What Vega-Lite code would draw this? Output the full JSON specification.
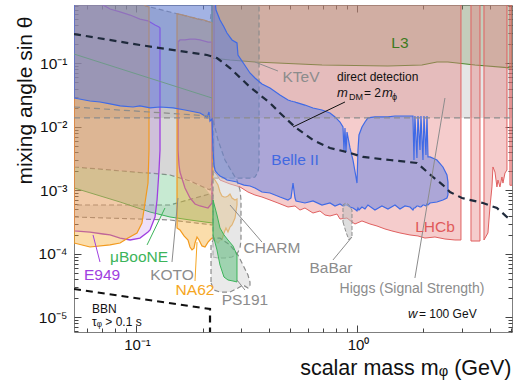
{
"$schema":"https://vega.github.io/schema/vega-lite/v6.json",
"width":438,"height":327,
"autosize":{"type":"none"},
"padding":{"left":74,"top":5,"right":3,"bottom":49},
"background":"white",
"config":{"view":{"stroke":"#7f7f7f","strokeWidth":1},"font":"Liberation Sans","axis":{"grid":false,"domain":false}},
"resolve":{"axis":{"x":"independent","y":"independent"}},
"datasets":{
"higgs":[{"x":0.0524,"lo":0.0138,"hi":1},{"x":5.03,"lo":0.0138,"hi":1}],
"l3":[{"x":0.2208,"lo":0.121,"hi":1},{"x":0.2662,"lo":0.1127,"hi":1},{"x":0.3454,"lo":0.1048,"hi":1},{"x":0.6944,"lo":0.094,"hi":1},{"x":1.381,"lo":0.0907,"hi":1},{"x":1.968,"lo":0.094,"hi":1},{"x":2.301,"lo":0.1048,"hi":1},{"x":2.581,"lo":0.1048,"hi":1},{"x":3.42,"lo":0.094,"hi":1},{"x":5.03,"lo":0.0843,"hi":1}],
"lhcb":[
{"s":"a","x":0.2254,"lo":0.00194,"hi":1},{"s":"a","x":0.2325,"lo":0.00174,"hi":1},{"s":"a","x":0.2399,"lo":0.00145,"hi":1},{"s":"a","x":0.2662,"lo":0.00126,"hi":1},{"s":"a","x":0.2955,"lo":0.00113,"hi":1},{"s":"a","x":0.3211,"lo":0.00094,"hi":1},{"s":"a","x":0.3454,"lo":0.000843,"hi":1},{"s":"a","x":0.3716,"lo":0.000784,"hi":1},{"s":"a","x":0.404,"lo":0.000704,"hi":1},{"s":"a","x":0.439,"lo":0.000631,"hi":1},{"s":"a","x":0.4874,"lo":0.000546,"hi":1},{"s":"a","x":0.5242,"lo":0.000566,"hi":1},{"s":"a","x":0.5521,"lo":0.000489,"hi":1},{"s":"a","x":0.5815,"lo":0.000526,"hi":1},{"s":"a","x":0.6323,"lo":0.000439,"hi":1},{"s":"a","x":0.6802,"lo":0.000472,"hi":1},{"s":"a","x":0.7166,"lo":0.000408,"hi":1},{"s":"a","x":0.7548,"lo":0.000394,"hi":1},{"s":"a","x":0.812,"lo":0.000423,"hi":1},{"s":"a","x":0.8379,"lo":0.000353,"hi":1},{"s":"a","x":0.9012,"lo":0.000366,"hi":1},{"s":"a","x":0.9493,"lo":0.000317,"hi":1},{"s":"a","x":0.9795,"lo":0.000295,"hi":1},{"s":"a","x":1.0535,"lo":0.000329,"hi":1},{"s":"a","x":1.145,"lo":0.000295,"hi":1},{"s":"a","x":1.232,"lo":0.000274,"hi":1},{"s":"a","x":1.339,"lo":0.000246,"hi":1},{"s":"a","x":1.44,"lo":0.000229,"hi":1},{"s":"a","x":1.565,"lo":0.000213,"hi":1},{"s":"a","x":1.737,"lo":0.000198,"hi":1},{"s":"a","x":1.888,"lo":0.000191,"hi":1},{"s":"a","x":2.031,"lo":0.000177,"hi":1},{"s":"a","x":2.254,"lo":0.000184,"hi":1},{"s":"a","x":2.501,"lo":0.000171,"hi":1},{"s":"a","x":2.776,"lo":0.000165,"hi":1},{"s":"a","x":2.955,"lo":0.000165,"hi":1},
{"s":"b","x":3.28,"lo":0.000159,"hi":1},{"s":"b","x":3.603,"lo":0.000159,"hi":1},
{"s":"c","x":3.756,"lo":0.000165,"hi":1},{"s":"c","x":3.915,"lo":0.000213,"hi":1},{"s":"c","x":3.998,"lo":0.000546,"hi":1},{"s":"c","x":4.082,"lo":0.00113,"hi":1},{"s":"c","x":4.125,"lo":0.00233,"hi":1},{"s":"c","x":4.212,"lo":0.00194,"hi":1},{"s":"c","x":4.3,"lo":0.00113,"hi":1},{"s":"c","x":4.345,"lo":0.00145,"hi":1},{"s":"c","x":4.437,"lo":0.00113,"hi":1},{"s":"c","x":4.53,"lo":0.00162,"hi":1},{"s":"c","x":4.578,"lo":0.0013,"hi":1},{"s":"c","x":4.675,"lo":0.00187,"hi":1},{"s":"c","x":4.773,"lo":0.00209,"hi":1},
{"s":"d","x":4.923,"lo":0.0012,"hi":1},{"s":"d","x":5.03,"lo":0.0012,"hi":1}],
"ktev":[{"x":0.0524,"lo":0.00233,"hi":1},{"x":0.0763,"lo":0.00209,"hi":1},{"x":0.1064,"lo":0.00189,"hi":0.83},{"x":0.1157,"lo":0.00187,"hi":0.77},{"x":0.1425,"lo":0.00174,"hi":0.643},{"x":0.1755,"lo":0.0014,"hi":0.536},{"x":0.2162,"lo":0.00101,"hi":0.447},{"x":0.2231,"lo":0.00156,"hi":1},{"x":0.3279,"lo":0.00156,"hi":1},{"x":0.3454,"lo":0.00162,"hi":1},{"x":0.3565,"lo":0.00194,"hi":1},{"x":0.3603,"lo":0.0025,"hi":1}],
"koto":[{"x":0.0524,"lo":0.00038,"hi":0.000587},{"x":0.1425,"lo":0.000341,"hi":0.000587},{"x":0.2231,"lo":0.000284,"hi":0.000907}],
"mub":[{"x":0.0524,"lo":0.00109,"hi":0.00233},{"x":0.0847,"lo":0.000654,"hi":0.00201},{"x":0.1157,"lo":0.000455,"hi":0.00187},{"x":0.1425,"lo":0.00038,"hi":0.00174},{"x":0.1755,"lo":0.000341,"hi":0.00135},{"x":0.2052,"lo":0.000317,"hi":0.00109},{"x":0.2231,"lo":0.000305,"hi":0.000756}],
"e949":[
{"s":"a","x":0.0524,"lo":0.000229,"hi":1},{"s":"a","x":0.0619,"lo":0.00022,"hi":1},{"s":"a","x":0.0709,"lo":0.000205,"hi":0.828},{"s":"a","x":0.0763,"lo":0.000198,"hi":0.716},{"s":"a","x":0.0847,"lo":0.000177,"hi":0.643},{"s":"a","x":0.094,"lo":0.000165,"hi":0.576},{"s":"a","x":0.1042,"lo":0.000177,"hi":0.498},{"s":"a","x":0.1133,"lo":0.00022,"hi":0.464},{"s":"a","x":0.1157,"lo":0.000237,"hi":0.447},{"s":"a","x":0.1219,"lo":0.00038,"hi":0.401},{"s":"a","x":0.1245,"lo":0.000704,"hi":0.387},{"s":"a","x":0.1271,"lo":0.00209,"hi":0.373},{"s":"a","x":0.1284,"lo":0.00431,"hi":0.36},
{"s":"b","x":0.1549,"lo":0.00431,"hi":0.224},{"s":"b","x":0.1565,"lo":0.0025,"hi":0.224},{"s":"b","x":0.1581,"lo":0.00194,"hi":0.233},{"s":"b","x":0.1666,"lo":0.00109,"hi":0.233},{"s":"b","x":0.1755,"lo":0.000756,"hi":0.241},{"s":"b","x":0.1849,"lo":0.000608,"hi":0.241},{"s":"b","x":0.1948,"lo":0.000566,"hi":0.233},{"s":"b","x":0.2118,"lo":0.000526,"hi":0.216},{"s":"b","x":0.2208,"lo":0.000631,"hi":0.216}],
"na62":[
{"s":"a","x":0.0524,"lo":0.000148,"hi":1},{"s":"a","x":0.0619,"lo":0.000128,"hi":1},{"s":"a","x":0.0763,"lo":0.000138,"hi":1},{"s":"a","x":0.0847,"lo":0.000148,"hi":1},{"s":"a","x":0.092,"lo":0.000177,"hi":1},{"s":"a","x":0.101,"lo":0.000213,"hi":1},{"s":"a","x":0.1064,"lo":0.000305,"hi":1},{"s":"a","x":0.1098,"lo":0.000631,"hi":0.81},{"s":"a","x":0.1133,"lo":0.0013,"hi":0.78},{"s":"a","x":0.1145,"lo":0.00431,"hi":0.775},
{"s":"b","x":0.1533,"lo":0.000255,"hi":0.603},{"s":"b","x":0.1581,"lo":0.000237,"hi":0.59},{"s":"b","x":0.1649,"lo":0.000191,"hi":0.57},{"s":"b","x":0.1719,"lo":0.000165,"hi":0.55},{"s":"b","x":0.1755,"lo":0.000128,"hi":0.536},{"s":"b","x":0.1792,"lo":0.000115,"hi":0.53},{"s":"b","x":0.183,"lo":0.000123,"hi":0.52},{"s":"b","x":0.1849,"lo":0.000148,"hi":0.515},{"s":"b","x":0.1888,"lo":0.000184,"hi":0.5},{"s":"b","x":0.1928,"lo":0.000165,"hi":0.495},{"s":"b","x":0.1989,"lo":0.000133,"hi":0.49},{"s":"b","x":0.2052,"lo":0.000128,"hi":0.475},{"s":"b","x":0.2118,"lo":0.000153,"hi":0.455},{"s":"b","x":0.2162,"lo":0.000165,"hi":0.447},{"s":"b","x":0.2208,"lo":0.000177,"hi":0.434},{"s":"b","x":0.2231,"lo":0.000177,"hi":0.00156},{"s":"b","x":0.2278,"lo":0.000165,"hi":0.00145},{"s":"b","x":0.235,"lo":0.000148,"hi":0.00121},{"s":"b","x":0.2399,"lo":0.000165,"hi":0.00094},{"s":"b","x":0.2449,"lo":0.000165,"hi":0.000813},{"s":"b","x":0.2501,"lo":0.000213,"hi":0.000784},{"s":"b","x":0.2553,"lo":0.000255,"hi":0.000784},{"s":"b","x":0.2607,"lo":0.00022,"hi":0.000813},{"s":"b","x":0.2662,"lo":0.000264,"hi":0.000874},{"s":"b","x":0.2719,"lo":0.000284,"hi":0.000756},{"s":"b","x":0.2805,"lo":0.000366,"hi":0.000704},{"s":"b","x":0.2864,"lo":0.000587,"hi":0.000729}],
"charm":[{"x":0.2231,"lo":0.000089,"hi":0.0128},{"x":0.235,"lo":0.0000859,"hi":0.00619},{"x":0.2527,"lo":0.0000859,"hi":0.003},{"x":0.2719,"lo":0.000089,"hi":0.00194},{"x":0.2864,"lo":0.0000993,"hi":0.00145},{"x":0.2955,"lo":0.000123,"hi":0.00101},{"x":0.2986,"lo":0.000165,"hi":0.000704}],
"ps191g":[{"x":0.2185,"lo":0.0000347,"hi":0.000138},{"x":0.2254,"lo":0.0000269,"hi":0.000177},{"x":0.2399,"lo":0.000025,"hi":0.000177},{"x":0.2662,"lo":0.000025,"hi":0.000138},{"x":0.2894,"lo":0.0000289,"hi":0.0000957},{"x":0.3049,"lo":0.0000323,"hi":0.0000666},{"x":0.3211,"lo":0.0000289,"hi":0.0000464},{"x":0.3279,"lo":0.00003,"hi":0.000036}],
"ps191":[{"x":0.2231,"lo":0.000198,"hi":0.000704},{"x":0.2325,"lo":0.000115,"hi":0.000408},{"x":0.2399,"lo":0.0000666,"hi":0.000255},{"x":0.2501,"lo":0.0000431,"hi":0.000198},{"x":0.2607,"lo":0.0000387,"hi":0.000165},{"x":0.2747,"lo":0.0000373,"hi":0.000133},{"x":0.2864,"lo":0.000036,"hi":0.0000957}],
"belle":[
{"x":0.0524,"lo":0.0284,"hi":1},{"x":0.0619,"lo":0.0255,"hi":1},{"x":0.0687,"lo":0.0246,"hi":1},{"x":0.0763,"lo":0.0229,"hi":1},{"x":0.0847,"lo":0.0213,"hi":1},{"x":0.0969,"lo":0.0205,"hi":1},{"x":0.1042,"lo":0.0213,"hi":1},{"x":0.1157,"lo":0.0198,"hi":1},{"x":0.1284,"lo":0.0205,"hi":1},{"x":0.1471,"lo":0.0198,"hi":1},{"x":0.1666,"lo":0.0184,"hi":1},{"x":0.1849,"lo":0.0171,"hi":1},{"x":0.1948,"lo":0.0165,"hi":1},{"x":0.2052,"lo":0.0148,"hi":1},{"x":0.2096,"lo":0.0138,"hi":1},{"x":0.2139,"lo":0.0171,"hi":1},{"x":0.2162,"lo":0.0123,"hi":1},{"x":0.2208,"lo":0.0133,"hi":1},{"x":0.2231,"lo":0.00431,"hi":1},{"x":0.2254,"lo":0.0025,"hi":1},{"x":0.2278,"lo":0.00209,"hi":1},{"x":0.2301,"lo":0.00194,"hi":0.691},{"x":0.235,"lo":0.0018,"hi":0.576},{"x":0.2399,"lo":0.00168,"hi":0.481},{"x":0.2501,"lo":0.00156,"hi":0.373},{"x":0.258,"lo":0.00145,"hi":0.3},{"x":0.2719,"lo":0.0014,"hi":0.233},{"x":0.2864,"lo":0.00135,"hi":0.209},{"x":0.2894,"lo":0.0013,"hi":0.135},{"x":0.3081,"lo":0.00121,"hi":0.0975},{"x":0.3279,"lo":0.00117,"hi":0.0704},{"x":0.3454,"lo":0.00109,"hi":0.0587},{"x":0.3716,"lo":0.00094,"hi":0.0472},{"x":0.404,"lo":0.000907,"hi":0.0408},{"x":0.4482,"lo":0.000784,"hi":0.0317},{"x":0.4874,"lo":0.000704,"hi":0.0264},{"x":0.5028,"lo":0.000756,"hi":0.0255},{"x":0.5135,"lo":0.0013,"hi":0.025},{"x":0.5242,"lo":0.000756,"hi":0.0246},{"x":0.5297,"lo":0.000679,"hi":0.0243},{"x":0.5815,"lo":0.000631,"hi":0.022},{"x":0.6323,"lo":0.000679,"hi":0.0198},{"x":0.6944,"lo":0.000587,"hi":0.0184},{"x":0.7548,"lo":0.000631,"hi":0.0165},{"x":0.7955,"lo":0.000566,"hi":0.0143},{"x":0.8379,"lo":0.000608,"hi":0.0119},{"x":0.8643,"lo":0.000566,"hi":0.00993},{"x":0.8733,"lo":0.000566,"hi":0.00431},{"x":0.8825,"lo":0.000587,"hi":0.00957},{"x":0.8917,"lo":0.000587,"hi":0.00401},{"x":0.9012,"lo":0.000587,"hi":0.00828},{"x":0.9297,"lo":0.000546,"hi":0.00464},{"x":0.9592,"lo":0.000526,"hi":0.003},{"x":0.9896,"lo":0.000489,"hi":0.00162},{"x":1.0,"lo":0.000472,"hi":0.0013},{"x":1.0105,"lo":0.000526,"hi":0.00431},{"x":1.021,"lo":0.000489,"hi":0.00743},{"x":1.0535,"lo":0.000546,"hi":0.00993},{"x":1.087,"lo":0.000508,"hi":0.0119},{"x":1.121,"lo":0.000587,"hi":0.0138},{"x":1.206,"lo":0.000489,"hi":0.0143},{"x":1.297,"lo":0.000566,"hi":0.0143},{"x":1.381,"lo":0.000508,"hi":0.0143},{"x":1.486,"lo":0.000587,"hi":0.0148},{"x":1.565,"lo":0.000508,"hi":0.0148},{"x":1.649,"lo":0.000566,"hi":0.0148},{"x":1.737,"lo":0.000546,"hi":0.0148},{"x":1.792,"lo":0.000489,"hi":0.0148},{"x":1.811,"lo":0.000526,"hi":0.003},{"x":1.829,"lo":0.000526,"hi":0.0148},{"x":1.868,"lo":0.000566,"hi":0.00323},{"x":1.888,"lo":0.000566,"hi":0.0148},{"x":1.928,"lo":0.000546,"hi":0.00431},{"x":1.948,"lo":0.000546,"hi":0.0148},{"x":1.989,"lo":0.000587,"hi":0.003},{"x":2.01,"lo":0.000587,"hi":0.0148},{"x":2.052,"lo":0.000566,"hi":0.0036},{"x":2.074,"lo":0.000608,"hi":0.0148},{"x":2.096,"lo":0.000587,"hi":0.00335},{"x":2.14,"lo":0.000631,"hi":0.00335},{"x":2.301,"lo":0.000654,"hi":0.003},{"x":2.449,"lo":0.000704,"hi":0.00233},{"x":2.554,"lo":0.000756,"hi":0.00174},{"x":2.581,"lo":0.000843,"hi":0.00135}],
"babar":[{"x":0.8643,"lo":0.000317,"hi":0.000587},{"x":0.8917,"lo":0.00022,"hi":0.000631},{"x":0.92,"lo":0.000165,"hi":0.000587},{"x":0.9493,"lo":0.000191,"hi":0.000489}],
"dashg":[{"id":"h","x":0.0524,"y":0.0138},{"id":"h","x":5.03,"y":0.0138},{"id":"d5","x":0.0524,"y":0.0205},{"id":"d5","x":0.2162,"y":0.0148}],
"l3left":[{"x":0.0524,"y":0.14},{"x":0.2208,"y":0.0284}],
"dd":[{"x":0.0524,"y":0.289},{"x":0.1042,"y":0.194},{"x":0.2096,"y":0.135},{"x":0.2325,"y":0.121},{"x":0.2662,"y":0.0843},{"x":0.3279,"y":0.0423},{"x":0.404,"y":0.0237},{"x":0.4482,"y":0.0165},{"x":0.5242,"y":0.00993},{"x":0.6323,"y":0.00619},{"x":0.7548,"y":0.00464},{"x":0.9012,"y":0.00401},{"x":1.0644,"y":0.00335},{"x":1.41,"y":0.003},{"x":1.868,"y":0.00269},{"x":2.208,"y":0.00162},{"x":2.449,"y":0.00121},{"x":2.635,"y":0.00094},{"x":2.987,"y":0.000756},{"x":3.717,"y":0.000631},{"x":4.3,"y":0.000526},{"x":4.773,"y":0.00038},{"x":5.027,"y":0.000341}],
"bbn":[{"x":0.0524,"y":0.0000279},{"x":0.2162,"y":0.0000135},{"x":0.21621,"y":0.000005}],
"ptr":[{"exp":"KTeV","x":0.439,"y":0.0756},{"exp":"KTeV","x":0.3454,"y":0.1048},{"exp":"DD","x":0.8825,"y":0.0246},{"exp":"DD","x":0.5135,"y":0.00993},{"exp":"Higgs","x":1.829,"y":0.0000416},{"exp":"Higgs","x":2.501,"y":0.0284},{"exp":"BaBar","x":0.7786,"y":0.0000799},{"exp":"BaBar","x":0.9493,"y":0.000184},{"exp":"CHARM","x":0.3716,"y":0.000153},{"exp":"CHARM","x":0.2662,"y":0.000587},{"exp":"PS191","x":0.3112,"y":0.0000269},{"exp":"PS191","x":0.2864,"y":0.0000387},{"exp":"KOTO","x":0.1455,"y":0.0000743},{"exp":"KOTO","x":0.1549,"y":0.000756},{"exp":"muBooNE","x":0.1122,"y":0.000138},{"exp":"muBooNE","x":0.1352,"y":0.000526},{"exp":"E949","x":0.0687,"y":0.0000743},{"exp":"E949","x":0.0639,"y":0.000198},{"exp":"NA62","x":0.1849,"y":0.0000373},{"exp":"NA62","x":0.1888,"y":0.000153}],
"lab":[
{"k":"c16","t":"L3","exp":"L3","x":1.565,"y":0.174},
{"k":"c16","t":"KTeV","exp":"KTeV","x":0.5578,"y":0.0507},
{"k":"c16","t":"Belle II","exp":"Belle","x":0.5242,"y":0.0025},
{"k":"c16","t":"LHCb","exp":"LHCb","x":2.254,"y":0.00022},
{"k":"c16","t":"CHARM","exp":"CHARM","x":0.4125,"y":0.000103},
{"k":"c16","t":"BaBar","exp":"BaBar","x":0.7627,"y":0.0000498},
{"k":"c16","t":"μBooNE","exp":"muBooNE","x":0.1032,"y":0.0000743},
{"k":"c16","t":"E949","exp":"E949","x":0.0702,"y":0.0000387},
{"k":"c16","t":"KOTO","exp":"KOTO","x":0.1455,"y":0.0000387},
{"k":"c16","t":"NA62","exp":"NA62","x":0.1849,"y":0.0000224},
{"k":"c16","t":"PS191","exp":"PS191","x":0.3112,"y":0.0000156},
{"k":"c14","t":"Higgs (Signal Strength)","exp":"Higgs","x":1.774,"y":0.0000241},
{"k":"l12","t":"direct detection","exp":"DD","x":0.812,"y":0.0526},
{"k":"l12","t":"= 2","exp":"DD","x":1.076,"y":0.0294},
{"k":"l12","t":"= 100 GeV","exp":"DD","x":1.907,"y":0.00000975},
{"k":"l12","t":"BBN","exp":"DD","x":0.0632,"y":0.0000117},
{"k":"l12","t":"τᵩ > 0.1 s","exp":"DD","x":0.0632,"y":0.0000072},
{"k":"it","t":"m","exp":"DD","x":0.812,"y":0.0294},
{"k":"it","t":"m","exp":"DD","x":1.297,"y":0.0294},
{"k":"it","t":"w","exp":"DD","x":1.701,"y":0.00000975},
{"k":"sub","t":"DM","exp":"DD","x":0.92,"y":0.0264},
{"k":"sub","t":"ϕ","exp":"DD","x":1.44,"y":0.0264}]
},
"layer":[
{"data":{"name":"higgs"},"mark":{"type":"area","fill":"#8a8a8a","fillOpacity":0.22,"clip":true},
 "encoding":{
  "x":{"field":"x","type":"quantitative","scale":{"type":"log","domain":[0.0524,5.03],"nice":false},
   "axis":{"orient":"bottom","values":[0.06,0.07,0.08,0.09,0.1,0.2,0.3,0.4,0.5,0.6,0.7,0.8,0.9,1,2,3,4,5],
    "labelExpr":"abs(log(datum.value)/LN10-round(log(datum.value)/LN10))>0.01 ? '' : round(log(datum.value)/LN10)==-1 ? '10⁻¹' : '10⁰'",
    "tickSize":{"condition":{"test":"abs(log(datum.value)/LN10-round(log(datum.value)/LN10))<0.01","value":-7},"value":-4},
    "tickColor":"#444","labelPadding":12,"labelFontSize":15,"labelFont":"Liberation Sans","labelColor":"#111","labelFlush":false,"labelOverlap":false,"labelOffset":1,
    "title":"scalar mass mᵩ (GeV)","titleFont":"Liberation Sans","titleFontSize":21.5,"titleFontWeight":"normal","titleColor":"#111","titleAlign":"right","titleBaseline":"alphabetic","titleX":437,"titleY":42}},
  "y":{"field":"lo","type":"quantitative","stack":null,"scale":{"type":"log","domain":[0.00000587,0.828],"nice":false},
   "axis":{"orient":"left","values":[0.000006,0.000007,0.000008,0.000009,0.00001,0.00002,0.00003,0.00004,0.00005,0.00006,0.00007,0.00008,0.00009,0.0001,0.0002,0.0003,0.0004,0.0005,0.0006,0.0007,0.0008,0.0009,0.001,0.002,0.003,0.004,0.005,0.006,0.007,0.008,0.009,0.01,0.02,0.03,0.04,0.05,0.06,0.07,0.08,0.09,0.1,0.2,0.3,0.4,0.5,0.6,0.7,0.8],
    "labelExpr":"abs(log(datum.value)/LN10-round(log(datum.value)/LN10))>0.01 ? '' : round(log(datum.value)/LN10)==-5 ? '10⁻⁵' : round(log(datum.value)/LN10)==-4 ? '10⁻⁴' : round(log(datum.value)/LN10)==-3 ? '10⁻³' : round(log(datum.value)/LN10)==-2 ? '10⁻²' : '10⁻¹'",
    "tickSize":{"condition":{"test":"abs(log(datum.value)/LN10-round(log(datum.value)/LN10))<0.01","value":-7},"value":-4},
    "tickColor":"#444","labelPadding":14,"labelFontSize":15.5,"labelFont":"Liberation Sans","labelColor":"#111","labelFlush":false,"labelOverlap":false,
    "title":"mixing angle sin θ","titleFont":"Liberation Sans","titleFontSize":21,"titleFontWeight":"normal","titleColor":"#111","titleAngle":270,"titleAlign":"center","titleBaseline":"alphabetic","titleX":-43,"titleY":95}},
  "y2":{"field":"hi"}}},
{"data":{"name":"l3"},"mark":{"type":"area","fill":"#6e8f4f","fillOpacity":0.28,"stroke":"#4e8a2e","strokeWidth":1.2,"clip":true},
 "encoding":{
  "x":{"field":"x","type":"quantitative","scale":{"type":"log","domain":[0.0524,5.03],"nice":false},
   "axis":{"orient":"top","values":[0.06,0.07,0.08,0.09,0.1,0.2,0.3,0.4,0.5,0.6,0.7,0.8,0.9,1,2,3,4,5],"labels":false,"title":null,
    "tickSize":{"condition":{"test":"abs(log(datum.value)/LN10-round(log(datum.value)/LN10))<0.01","value":-7},"value":-4},"tickColor":"#444"}},
  "y":{"field":"lo","type":"quantitative","stack":null,"scale":{"type":"log","domain":[0.00000587,0.828],"nice":false},
   "axis":{"orient":"right","values":[0.000006,0.000007,0.000008,0.000009,0.00001,0.00002,0.00003,0.00004,0.00005,0.00006,0.00007,0.00008,0.00009,0.0001,0.0002,0.0003,0.0004,0.0005,0.0006,0.0007,0.0008,0.0009,0.001,0.002,0.003,0.004,0.005,0.006,0.007,0.008,0.009,0.01,0.02,0.03,0.04,0.05,0.06,0.07,0.08,0.09,0.1,0.2,0.3,0.4,0.5,0.6,0.7,0.8],"labels":false,"title":null,
    "tickSize":{"condition":{"test":"abs(log(datum.value)/LN10-round(log(datum.value)/LN10))<0.01","value":-7},"value":-4},"tickColor":"#444"}},
  "y2":{"field":"hi"}}},
{"data":{"name":"lhcb"},"mark":{"type":"area","fill":"#e57f7f","fillOpacity":0.4,"stroke":"#e06060","strokeWidth":1,"clip":true},
 "encoding":{"x":{"field":"x","type":"quantitative","axis":null},"y":{"field":"lo","type":"quantitative","stack":null,"axis":null},"y2":{"field":"hi"},"detail":{"field":"s"}}},
{"data":{"name":"ktev"},"mark":{"type":"area","fill":"#8c8c8c","fillOpacity":0.35,"stroke":"#8c8c8c","strokeWidth":1.2,"strokeDash":[5,3],"clip":true},
 "encoding":{"x":{"field":"x","type":"quantitative","axis":null},"y":{"field":"lo","type":"quantitative","stack":null,"axis":null},"y2":{"field":"hi"}}},
{"data":{"name":"koto"},"mark":{"type":"area","fill":"#a0a0a0","fillOpacity":0.18,"stroke":"#8c8c8c","strokeWidth":1.2,"strokeDash":[5,3],"clip":true},
 "encoding":{"x":{"field":"x","type":"quantitative","axis":null},"y":{"field":"lo","type":"quantitative","stack":null,"axis":null},"y2":{"field":"hi"}}},
{"data":{"name":"mub"},"mark":{"type":"area","fill":"#45b86a","fillOpacity":0.3,"clip":true},
 "encoding":{"x":{"field":"x","type":"quantitative","axis":null},"y":{"field":"lo","type":"quantitative","stack":null,"axis":null},"y2":{"field":"hi"}}},
{"data":{"name":"mub"},"mark":{"type":"line","stroke":"#3cb45a","strokeWidth":1,"clip":true},
 "encoding":{"x":{"field":"x","type":"quantitative","axis":null},"y":{"field":"lo","type":"quantitative","axis":null}}},
{"data":{"name":"e949"},"mark":{"type":"area","fill":"#b066e8","fillOpacity":0.2,"stroke":"#a040e0","strokeWidth":1.3,"clip":true},
 "encoding":{"x":{"field":"x","type":"quantitative","axis":null},"y":{"field":"lo","type":"quantitative","stack":null,"axis":null},"y2":{"field":"hi"},"detail":{"field":"s"}}},
{"data":{"name":"na62"},"mark":{"type":"area","fill":"#f5a623","fillOpacity":0.38,"stroke":"#f29a1e","strokeWidth":1.2,"clip":true},
 "encoding":{"x":{"field":"x","type":"quantitative","axis":null},"y":{"field":"lo","type":"quantitative","stack":null,"axis":null},"y2":{"field":"hi"},"detail":{"field":"s"}}},
{"data":{"name":"charm"},"mark":{"type":"area","fill":"#cfcfcf","fillOpacity":0.5,"stroke":"#8c8c8c","strokeWidth":1.2,"strokeDash":[5,3],"clip":true},
 "encoding":{"x":{"field":"x","type":"quantitative","axis":null},"y":{"field":"lo","type":"quantitative","stack":null,"axis":null},"y2":{"field":"hi"}}},
{"data":{"name":"ps191g"},"mark":{"type":"area","fill":"#d6d6d6","fillOpacity":0.5,"stroke":"#8c8c8c","strokeWidth":1.2,"strokeDash":[5,3],"clip":true},
 "encoding":{"x":{"field":"x","type":"quantitative","axis":null},"y":{"field":"lo","type":"quantitative","stack":null,"axis":null},"y2":{"field":"hi"}}},
{"data":{"name":"ps191"},"mark":{"type":"area","fill":"#45b86a","fillOpacity":0.45,"stroke":"#3cb45a","strokeWidth":1,"clip":true},
 "encoding":{"x":{"field":"x","type":"quantitative","axis":null},"y":{"field":"lo","type":"quantitative","stack":null,"axis":null},"y2":{"field":"hi"}}},
{"data":{"name":"belle"},"mark":{"type":"area","fill":"#5b7ee4","fillOpacity":0.48,"stroke":"#3f6ae6","strokeWidth":1.2,"clip":true},
 "encoding":{"x":{"field":"x","type":"quantitative","axis":null},"y":{"field":"lo","type":"quantitative","stack":null,"axis":null},"y2":{"field":"hi"}}},
{"data":{"name":"babar"},"mark":{"type":"area","fill":"#bdbdbd","fillOpacity":0.5,"stroke":"#8c8c8c","strokeWidth":1,"strokeDash":[4,2],"clip":true},
 "encoding":{"x":{"field":"x","type":"quantitative","axis":null},"y":{"field":"lo","type":"quantitative","stack":null,"axis":null},"y2":{"field":"hi"}}},
{"data":{"name":"dashg"},"mark":{"type":"line","stroke":"#8c8c8c","strokeWidth":1.2,"strokeDash":[6,4],"clip":true},
 "encoding":{"x":{"field":"x","type":"quantitative","axis":null},"y":{"field":"y","type":"quantitative","axis":null},"detail":{"field":"id"}}},
{"data":{"name":"l3left"},"mark":{"type":"line","stroke":"#6f9a8a","strokeWidth":1,"clip":true},
 "encoding":{"x":{"field":"x","type":"quantitative","axis":null},"y":{"field":"y","type":"quantitative","axis":null}}},
{"data":{"name":"dd"},"mark":{"type":"line","stroke":"#1f2a3c","strokeWidth":2.2,"strokeDash":[7,5],"clip":true},
 "encoding":{"x":{"field":"x","type":"quantitative","axis":null},"y":{"field":"y","type":"quantitative","axis":null}}},
{"data":{"name":"bbn"},"mark":{"type":"line","stroke":"#111","strokeWidth":2.2,"strokeDash":[7,5],"clip":true},
 "encoding":{"x":{"field":"x","type":"quantitative","axis":null},"y":{"field":"y","type":"quantitative","axis":null}}},
{"data":{"name":"ptr"},"mark":{"type":"line","strokeWidth":1,"clip":true},
 "encoding":{"x":{"field":"x","type":"quantitative","axis":null},"y":{"field":"y","type":"quantitative","axis":null},"detail":{"field":"exp"},
  "color":{"field":"exp","type":"nominal","legend":null,"scale":{"domain":["L3","KTeV","Belle","LHCb","CHARM","BaBar","Higgs","muBooNE","E949","KOTO","NA62","PS191","DD"],"range":["#3d7a1e","#8c8c8c","#4169e1","#e05a5a","#8c8c8c","#8c8c8c","#8c8c8c","#3cb45a","#a040e0","#8c8c8c","#f5a623","#8c8c8c","#111111"]}}}},
{"data":{"name":"lab"},"transform":[{"filter":"datum.k=='c16'"}],"mark":{"type":"text","align":"center","baseline":"alphabetic","fontSize":15.5,"font":"Liberation Sans"},
 "encoding":{"x":{"field":"x","type":"quantitative","axis":null},"y":{"field":"y","type":"quantitative","axis":null},"text":{"field":"t"},
  "color":{"field":"exp","type":"nominal","legend":null,"scale":{"domain":["L3","KTeV","Belle","LHCb","CHARM","BaBar","Higgs","muBooNE","E949","KOTO","NA62","PS191","DD"],"range":["#3d7a1e","#8c8c8c","#4169e1","#e05a5a","#8c8c8c","#8c8c8c","#8c8c8c","#3cb45a","#a040e0","#8c8c8c","#f5a623","#8c8c8c","#111111"]}}}},
{"data":{"name":"lab"},"transform":[{"filter":"datum.k=='c14'"}],"mark":{"type":"text","align":"center","baseline":"alphabetic","fontSize":14,"font":"Liberation Sans","fill":"#8c8c8c"},
 "encoding":{"x":{"field":"x","type":"quantitative","axis":null},"y":{"field":"y","type":"quantitative","axis":null},"text":{"field":"t"}}},
{"data":{"name":"lab"},"transform":[{"filter":"datum.k=='l12'"}],"mark":{"type":"text","align":"left","baseline":"alphabetic","fontSize":12,"font":"Liberation Sans","fill":"#111"},
 "encoding":{"x":{"field":"x","type":"quantitative","axis":null},"y":{"field":"y","type":"quantitative","axis":null},"text":{"field":"t"}}},
{"data":{"name":"lab"},"transform":[{"filter":"datum.k=='it'"}],"mark":{"type":"text","align":"left","baseline":"alphabetic","fontSize":13,"fontStyle":"italic","font":"Liberation Sans","fill":"#111"},
 "encoding":{"x":{"field":"x","type":"quantitative","axis":null},"y":{"field":"y","type":"quantitative","axis":null},"text":{"field":"t"}}},
{"data":{"name":"lab"},"transform":[{"filter":"datum.k=='sub'"}],"mark":{"type":"text","align":"left","baseline":"alphabetic","fontSize":9,"font":"Liberation Sans","fill":"#111"},
 "encoding":{"x":{"field":"x","type":"quantitative","axis":null},"y":{"field":"y","type":"quantitative","axis":null},"text":{"field":"t"}}}
]
}
